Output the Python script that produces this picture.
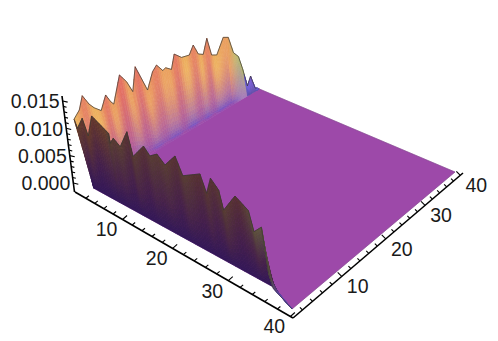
import numpy as np, pandas as pd, altair as alt
alt.data_transformers.disable_max_rows()

# values
back_v = [0.9,2.0,2.8,3.8,4.6,5.8,6.9,7.7,8.2,9.8,11.0,12.0,12.9,14.9,16.2,17.1,18.3,18.9,20.1,20.9,22.4,24.1,25.1,26.1,27.2,28.2,29.1,30.3,32.0,33.2,34.3,35.5,36.4,37.5,38.4,39.5,40.0]
back_z = [0.01188,0.01307,0.01535,0.01334,0.01229,0.01121,0.01365,0.012,0.01133,0.0162,0.01438,0.01201,0.01648,0.01102,0.01409,0.01504,0.01342,0.01374,0.01288,0.01568,0.01437,0.01415,0.01583,0.01354,0.013,0.01601,0.01207,0.01158,0.01469,0.01421,0.01041,0.00903,0.00602,0.00161,0.00343,0.00018,0.0]
front_u = [0.9,1.4,2.8,3.7,5.0,8.3,8.4,9.2,10.5,12.2,13.0,15.3,16.4,17.8,19.2,21.2,22.4,25.5,26.5,27.3,28.6,29.3,31.3,33.4,34.2,35.4,36.4,37.1,40.0]
front_z = [0.01177,0.01035,0.01278,0.00996,0.01411,0.0124,0.01069,0.01194,0.01103,0.01436,0.01045,0.01325,0.01207,0.013,0.01182,0.01419,0.01151,0.01322,0.0106,0.01337,0.0121,0.0093,0.01245,0.01121,0.00841,0.00969,0.00326,0.00142,0.0]
u_ticks = list(range(2,41,2))
u_labels = [10,20,30,40]
z_ticks = [round(i*0.001,3) for i in range(0,16)]
z_labels = ["0.000","0.005","0.010","0.015"]
z_label_vals = [0.0,0.005,0.01,0.015]

def hom(src,dst):
    A=[];b=[]
    for (u,v),(x,y) in zip(src,dst):
        A.append([u,v,1,0,0,0,-u*x,-v*x]);b.append(x)
        A.append([0,0,0,u,v,1,-u*y,-v*y]);b.append(y)
    return np.append(np.linalg.solve(np.array(A,float),np.array(b,float)),1).reshape(3,3)
H = hom([(1,1),(40,1),(40,40),(1,40)],[(83,184),(292,309),(455,172),(257,88)])
UL,UR,VL,VR=-0.5,40.4,0.2,40.8
H2 = hom([(UL,VL),(UR,VL),(UR,VR),(UL,VR)],[(75,192),(293,318),(463,173),(256,92)])
def ap(M,u,v):
    p=M@np.array([u,v,1.0]); return p[0]/p[2],p[1]/p[2]
def P(u,v,z):
    x,y=ap(H,u,v)
    k=5467*(1+0.25*(y-184)/125)
    t=-0.135*(300-x)/225
    return x+t*k*z, y-k*z
def lerp(a,b,t): return tuple(a[i]+(b[i]-a[i])*t for i in range(3))
def hexc(c): return '#%02x%02x%02x'%tuple(int(round(min(255,max(0,x)))) for x in c)
HZ=[0,0.0007,0.002,0.004,0.007,0.010,0.013,0.017]
HC=[(158,72,170),(122,85,192),(155,108,175),(188,128,155),(214,148,125),(232,168,108),(238,180,100),(236,176,92)]
def hcol(z): return tuple(np.interp(z,HZ,[c[i] for c in HC]) for i in range(3))
def peakness(par,val):
    s=[]
    n=len(val)
    for i in range(n):
        a=val[max(i-1,0)];b=val[min(i+1,n-1)]
        f=0.25 if par[i]>29.5 else 1.0
        s.append(f*float(np.clip((val[i]-0.5*(a+b))/0.002,0,1)))
    return s
def dens(par,val,step=0.5):
    ps=[];zs=[]
    for i in range(len(par)-1):
        n=max(1,int(np.ceil((par[i+1]-par[i])/step)))
        for j in range(n):
            f=j/n; ps.append(par[i]+(par[i+1]-par[i])*f); zs.append(val[i]+(val[i+1]-val[i])*f)
    ps.append(par[-1]);zs.append(val[-1])
    return np.array(ps),np.array(zs)
def blur(x):
    x=np.asarray(x); return np.convolve(np.pad(x,2,mode='edge'),[.1,.25,.3,.25,.1],mode='valid')

def u0(v): return 3-1.5*(v-1)/39
def v0(u): return 1.3+1.2*(min(u,36)-1)/35 if u<=36 else 2.5-1.5*(u-36)/4

rows=[];pid=0
def poly(pts,col):
    global pid
    c=hexc(col)
    for k,(x,y) in enumerate(list(pts)+[pts[0]]):
        rows.append(dict(x=round(x,2),y=round(y,2),k=k,pid=pid,c=c))
    pid+=1

# floor
fl=[]
for u in np.arange(3,40.01,1): fl.append(P(u,v0(u),0))
fl.append(P(40,40,0)); fl.append(P(1,40,0))
for v in np.arange(40,1,-3): fl.append(P(u0(v),v,0))
poly(fl,(157,73,169))

T=np.array([0,.03,.06,.1,.14,.19,.24,.3,.36,.42,.48,.54,.6,.66,.72,.78,.84,.9,.95,1.0])
# light back wall
ps,zs=dens(back_v,back_z)
sp=blur(np.interp(ps,back_v,peakness(back_v,back_z)))
for i in range(len(ps)-1):
    for r in range(len(T)-1):
        def q(j,t):
            v=ps[j]; vb=max(v,1.4)
            return P(1+(u0(v)-1)*(1-t),v+(vb-v)*(1-t),zs[j]*t)
        t=(T[r]+T[r+1])/2
        v=(ps[i]+ps[i+1])/2; z=(zs[i]+zs[i+1])/2; s=(sp[i]+sp[i+1])/2
        zc=0.0165*t if v<33 else z*t*1.6
        col=hcol(zc)
        if v>=33:
            w=min(1,(v-33)/2.5)
            col=lerp(col,lerp((165,125,190),(180,195,115),t),w)
        if v>=36.6:
            col=lerp((90,80,170),(108,98,225),min(1,t*1.5))
        pink=lerp((168,80,160),(222,74,100),min(1,t*1.15))
        col=lerp(col,pink,min(1,s*1.1)*0.8)
        poly([q(i,T[r]),q(i+1,T[r]),q(i+1,T[r+1]),q(i,T[r+1])],col)
# dark front wall
ps,zs=dens(front_u,front_z)
sp=blur(np.interp(ps,front_u,peakness([0]*len(front_u),front_z)))
for i in range(len(ps)-1):
    for r in range(len(T)-1):
        def q(j,t):
            u=ps[j]; ub=max(u,3.0)
            return P(ub+(u-ub)*t,1+(v0(ub)-1)*(1-t),zs[j]*t)
        t=(T[r]+T[r+1])/2
        u=(ps[i]+ps[i+1])/2; s=(sp[i]+sp[i+1])/2
        top=lerp((88,66,50),(86,44,50),s)
        if u<8: top=lerp(top,(106,60,40),0.6)
        if u>32: top=lerp(top,(94,86,62),min(1,(u-32)/3))
        mid=lerp((74,40,70),(66,30,76),s)
        col=lerp((50,24,88),mid,t/0.4) if t<0.4 else lerp(mid,top,(t-0.4)/0.6)
        if u>36.4:
            col=lerp(col,(100,75,180),min(1,(u-36.4)/1.2))
        poly([q(i,T[r]),q(i+1,T[r]),q(i+1,T[r+1]),q(i,T[r+1])],col)
polys=pd.DataFrame(rows)

sx=alt.Scale(domain=[8,490],nice=False,zero=False)
sy=alt.Scale(domain=[339,8],nice=False,zero=False)
X=alt.X('x:Q',scale=sx,axis=None); Y=alt.Y('y:Q',scale=sy,axis=None)

surface=alt.Chart(polys).mark_line(strokeWidth=0.6,interpolate='linear',clip=False).encode(
    x=X,y=Y,detail='pid:Q',order=alt.Order('k:Q'),
    fill=alt.Fill('c:N',scale=None,legend=None),stroke=alt.Stroke('c:N',scale=None,legend=None))

# outlines
out=[]
for v,z in zip(back_v,back_z):
    x,y=P(1,v,z); out.append(dict(x=x,y=y,g=0,k=len(out)))
for u,z in zip(front_u,front_z):
    x,y=P(u,1,z); out.append(dict(x=x,y=y,g=1,k=len(out)))
outline=alt.Chart(pd.DataFrame(out)).mark_line(strokeWidth=0.7,color='#3a3634',interpolate='linear').encode(
    x=X,y=Y,detail='g:Q',order=alt.Order('k:Q'))
ed=[P(40,1,0),P(40,40,0),P(1,40,0)]
edges=alt.Chart(pd.DataFrame([dict(x=a,y=b,k=i) for i,(a,b) in enumerate(ed)])).mark_line(strokeWidth=0.5,color='#6a4276',opacity=0.7).encode(
    x=X,y=Y,order=alt.Order('k:Q'))

# axes
Zb=(74.5,192.0); Zt=(62.0,96.0); zmin=-0.00165; zmax=0.0159
def zp(z):
    f=(z-zmin)/(zmax-zmin); return Zb[0]+(Zt[0]-Zb[0])*f, Zb[1]+(Zt[1]-Zb[1])*f
seg=[]
def add(a,b,w): seg.append(dict(x=a[0],y=a[1],x2=b[0],y2=b[1],w=w))
add(ap(H2,UL,VL),ap(H2,UR,VL),1.6); add(ap(H2,UR,VL),ap(H2,UR,VR),1.6); add(Zb,Zt,1.6)
for t in u_ticks:
    mj=t%10==0
    a=ap(H2,t,VL); d=(4.5,-4) if mj else (3,-2.5)
    add(a,(a[0]+d[0],a[1]+d[1]),1.1)
    a=ap(H2,UR,t); d=(-4,-4) if mj else (-2.5,-2.5)
    add(a,(a[0]+d[0],a[1]+d[1]),1.1)
for z in z_ticks:
    mj=abs(z*200-round(z*200))<1e-6
    a=zp(z); d=(5,1.2) if mj else (3.2,0.8)
    add(a,(a[0]+d[0],a[1]+d[1]),1.1)
axes=alt.Chart(pd.DataFrame(seg)).mark_rule(color='black').encode(
    x=X,y=Y,x2='x2:Q',y2='y2:Q',strokeWidth=alt.StrokeWidth('w:Q',scale=None))

lab=[]
for t in u_labels:
    a=ap(H2,t,VL); lab.append(dict(x=a[0]-16,y=a[1]+11,t=str(t)))
    a=ap(H2,UR,t); lab.append(dict(x=a[0]+16,y=a[1]+11,t=str(t)))
text=alt.Chart(pd.DataFrame(lab)).mark_text(font='Liberation Sans',fontSize=19.5,align='center',baseline='middle',color='#1a1a1a').encode(
    x=X,y=Y,text='t:N')
zl=[]
for s,z in zip(z_labels,z_label_vals):
    a=zp(z); zl.append(dict(x=a[0]-3,y=a[1]+1.5,t=s))
ztext=alt.Chart(pd.DataFrame(zl)).mark_text(font='Liberation Sans',fontSize=19.5,align='right',baseline='middle',color='#1a1a1a').encode(
    x=X,y=Y,text='t:N')

chart=alt.layer(surface,outline,edges,axes,text,ztext).properties(
    width=482,height=331,padding=0,autosize=alt.AutoSizeParams(type='none'),background='white'
).configure_view(stroke=None)
chart.save("out.html",embed_options={"renderer":"svg","actions":False})
